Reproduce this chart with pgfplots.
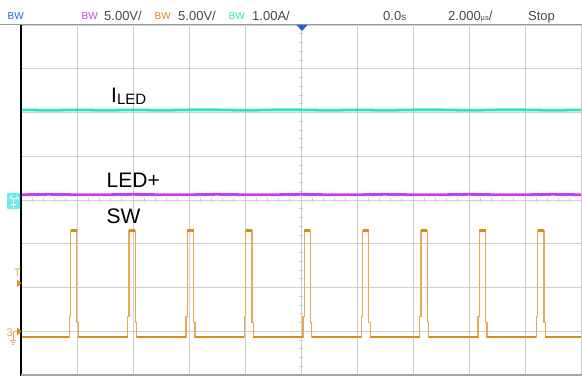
\documentclass[border=0pt]{standalone}
\usepackage{pgfplots}
\pgfplotsset{compat=1.18}
\usepackage{fontspec}
\setmainfont{Liberation Sans}
\definecolor{cyantr}{RGB}{44,228,190}
\definecolor{magtr}{RGB}{198,62,232}
\definecolor{orgtr}{RGB}{216,140,30}
\definecolor{orglt}{RGB}{228,170,90}
\definecolor{bluem}{RGB}{30,100,220}
\definecolor{gridc}{RGB}{206,206,206}
\definecolor{hdr}{RGB}{72,72,72}
\definecolor{cybox}{RGB}{110,236,236}
\begin{document}
\begin{tikzpicture}[x=1bp,y=1bp]
\path[use as bounding box] (0,0) rectangle (582,376);
% center minor ticks
\foreach \k in {1,...,39} {\draw[gridc, line width=0.7bp] (299,{1+\k*8.75}) -- (303,{1+\k*8.75});}
\foreach \k in {1,...,49} {\draw[gridc, line width=0.7bp] ({21+\k*11.2},174) -- ({21+\k*11.2},178);}
\begin{axis}[at={(21bp,1bp)}, anchor=south west, scale only axis,
  width=560bp, height=350bp, xmin=0, xmax=10, ymin=0, ymax=8,
  xtick={0,...,10}, ytick={0,...,8}, xticklabel=\empty, yticklabel=\empty,
  major tick length=0pt, grid=major, grid style={gridc, line width=0.9bp},
  axis line style={draw=none}, clip=false, unbounded coords=jump]
% I_LED
\addplot[cyantr, line width=2.8bp] coordinates {(0,6.06) (0.5,6.05) (1,6.06) (1.5,6.05) (2,6.06) (2.5,6.05) (3,6.06) (3.5,6.06) (4,6.05) (4.5,6.06) (5,6.06) (5.5,6.05) (6,6.06) (6.5,6.05) (7,6.06) (7.5,6.06) (8,6.05) (8.5,6.06) (9,6.06) (9.5,6.05) (10,6.06)};
% LED+
\addplot[magtr, line width=2.8bp] coordinates {(0,4.12) (0.5,4.13) (1,4.12) (1.5,4.12) (2,4.13) (2.5,4.12) (3,4.12) (3.5,4.13) (4,4.12) (4.5,4.12) (5,4.13) (5.5,4.12) (6,4.12) (6.5,4.13) (7,4.12) (7.5,4.12) (8,4.13) (8.5,4.12) (9,4.12) (9.5,4.13) (10,4.12)};
% SW thin outline
\addplot[orglt, line width=1.3bp] coordinates {
(0,0.869)
(0.861,0.869) (0.861,1.33) (0.886,1.33) (0.886,3.30) (0.996,3.30) (0.996,1.20) (1.021,1.20) (1.021,0.869)
(1.904,0.869) (1.904,1.33) (1.929,1.33) (1.929,3.30) (2.039,3.30) (2.039,1.20) (2.064,1.20) (2.064,0.869)
(2.947,0.869) (2.947,1.33) (2.972,1.33) (2.972,3.30) (3.082,3.30) (3.082,1.20) (3.107,1.20) (3.107,0.869)
(3.990,0.869) (3.990,1.33) (4.015,1.33) (4.015,3.30) (4.125,3.30) (4.125,1.20) (4.150,1.20) (4.150,0.869)
(5.033,0.869) (5.033,1.33) (5.058,1.33) (5.058,3.30) (5.168,3.30) (5.168,1.20) (5.193,1.20) (5.193,0.869)
(6.076,0.869) (6.076,1.33) (6.101,1.33) (6.101,3.30) (6.211,3.30) (6.211,1.20) (6.236,1.20) (6.236,0.869)
(7.118,0.869) (7.118,1.33) (7.143,1.33) (7.143,3.30) (7.253,3.30) (7.253,1.20) (7.278,1.20) (7.278,0.869)
(8.161,0.869) (8.161,1.33) (8.186,1.33) (8.186,3.30) (8.296,3.30) (8.296,1.20) (8.321,1.20) (8.321,0.869)
(9.204,0.869) (9.204,1.33) (9.229,1.33) (9.229,3.30) (9.339,3.30) (9.339,1.20) (9.364,1.20) (9.364,0.869)
(10,0.869)};
% SW plateaus
\addplot[orgtr, line width=2.8bp] coordinates {
(0,0.869) (0.861,0.869) (nan,nan) (0.886,3.31) (0.996,3.31) (nan,nan)
(1.021,0.869) (1.904,0.869) (nan,nan) (1.929,3.31) (2.039,3.31) (nan,nan)
(2.064,0.869) (2.947,0.869) (nan,nan) (2.972,3.31) (3.082,3.31) (nan,nan)
(3.107,0.869) (3.990,0.869) (nan,nan) (4.015,3.31) (4.125,3.31) (nan,nan)
(4.150,0.869) (5.033,0.869) (nan,nan) (5.058,3.31) (5.168,3.31) (nan,nan)
(5.193,0.869) (6.076,0.869) (nan,nan) (6.101,3.31) (6.211,3.31) (nan,nan)
(6.236,0.869) (7.118,0.869) (nan,nan) (7.143,3.31) (7.253,3.31) (nan,nan)
(7.278,0.869) (8.161,0.869) (nan,nan) (8.186,3.31) (8.296,3.31) (nan,nan)
(8.321,0.869) (9.204,0.869) (nan,nan) (9.229,3.31) (9.339,3.31) (nan,nan)
(9.364,0.869) (10,0.869)};
\end{axis}
% borders
\draw[black, line width=1.3bp] (21,0) -- (21,351.5);
\draw[gray!70, line width=1.5bp] (21,0.8) -- (582,0.8);
\draw[gray!80, line width=1bp] (0,351.5) -- (582,351.5);
% trigger marker
\fill[bluem] (296.5,351) -- (307.5,351) -- (302,345) -- cycle;
% header
\node[anchor=base west, inner sep=0, text=bluem, font=\fontsize{10bp}{10bp}\selectfont] at (7.5,357) {BW};
\node[anchor=base west, inner sep=0, text=magtr, font=\fontsize{10bp}{10bp}\selectfont] at (81.5,357) {BW};
\node[anchor=base west, inner sep=0, text=orgtr, font=\fontsize{10bp}{10bp}\selectfont] at (154.5,357) {BW};
\node[anchor=base west, inner sep=0, text=cyantr, font=\fontsize{10bp}{10bp}\selectfont] at (228.5,357) {BW};
\node[anchor=base west, inner sep=0, text=hdr, font=\fontsize{13bp}{14bp}\selectfont] at (104,356) {5.00V/};
\node[anchor=base west, inner sep=0, text=hdr, font=\fontsize{13bp}{14bp}\selectfont] at (178,356) {5.00V/};
\node[anchor=base west, inner sep=0, text=hdr, font=\fontsize{13bp}{14bp}\selectfont] at (252,356) {1.00A/};
\node[anchor=base west, inner sep=0, text=hdr, font=\fontsize{13bp}{14bp}\selectfont] at (383,356) {0.0{\fontsize{10bp}{11bp}\selectfont s}};
\node[anchor=base west, inner sep=0, text=hdr, font=\fontsize{13bp}{14bp}\selectfont] at (448,356) {2.000{\fontsize{7.5bp}{8bp}\selectfont µs}/};
\node[anchor=base west, inner sep=0, text=hdr, font=\fontsize{13bp}{14bp}\selectfont] at (528,356) {Stop};
% trace labels
\node[anchor=base west, inner sep=0, font=\fontsize{21bp}{24bp}\selectfont] at (111,274) {I\raisebox{-2.5bp}{\fontsize{15bp}{16bp}\selectfont LED}};
\node[anchor=base west, inner sep=0, font=\fontsize{21bp}{24bp}\selectfont] at (106.5,189) {LED+};
\node[anchor=base west, inner sep=0, font=\fontsize{21bp}{24bp}\selectfont] at (106.5,153) {SW};
% channel 4 box
\fill[cybox, rounded corners=1bp] (7,167) rectangle (20,183);
\node[anchor=base west, inner sep=0, text=white, font=\fontsize{7bp}{7bp}\selectfont] at (9,176) {4};
\draw[white, line width=0.6bp] (13,178) -- (17,178);
\fill[white] (16,180) -- (16,176) -- (19,178) -- cycle;
\draw[white, line width=0.6bp] (13,178) -- (13,172) (10.5,172) -- (15.5,172) (11.5,170.5) -- (14.5,170.5) (12.5,169) -- (13.5,169);
% trigger level marker
\node[anchor=base west, inner sep=0, text=orglt, font=\fontsize{11bp}{11bp}\selectfont] at (14,100) {T};
\fill[orgtr] (17,96.5) -- (17,89) -- (21.5,92.7) -- cycle;
% channel 3 marker
\node[anchor=base west, inner sep=0, text=orglt, font=\fontsize{11bp}{11bp}\selectfont] at (6.5,39.5) {3};
\draw[orglt, line width=0.7bp] (13,44.5) -- (17,44.5) (13,44.5) -- (13,36) (10,36) -- (16,36) (11,34) -- (15,34) (12,32) -- (14,32);
\fill[orgtr] (17,48.5) -- (17,40.5) -- (21.5,44.5) -- cycle;
\end{tikzpicture}
\end{document}
